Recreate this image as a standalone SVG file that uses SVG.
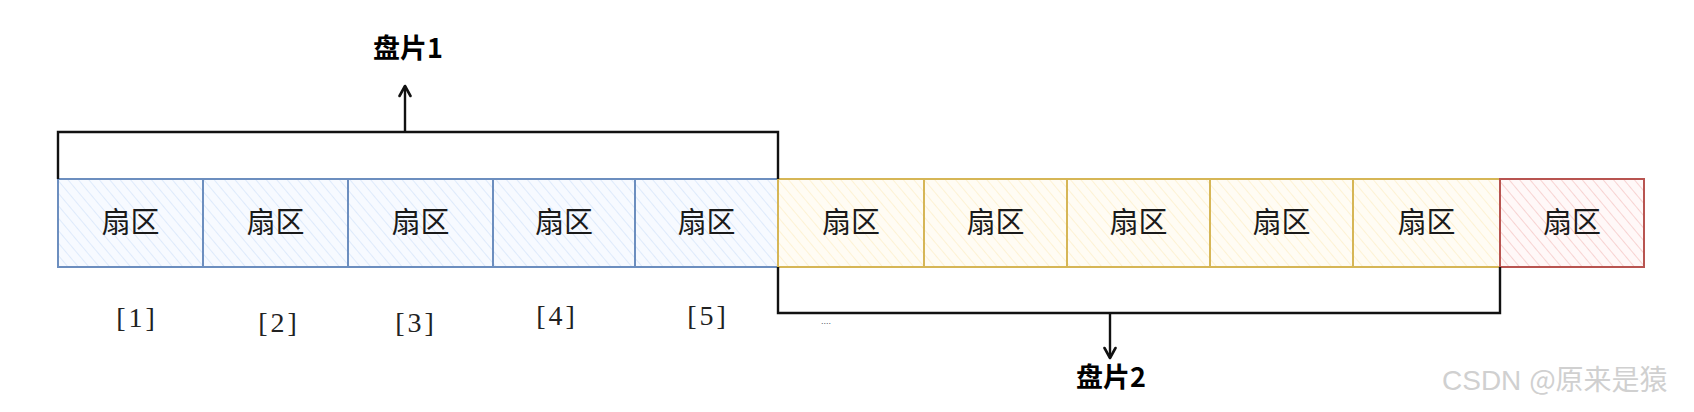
<svg xmlns="http://www.w3.org/2000/svg" width="1694" height="412" viewBox="0 0 1694 412">
<defs>
<pattern id="hb" width="8" height="8" patternUnits="userSpaceOnUse" patternTransform="rotate(-40)"><rect width="8" height="8" fill="#f7faff"/><line x1="0" y1="0" x2="0" y2="8" stroke="#d4e3fa" stroke-width="1.4"/></pattern>
<pattern id="hy" width="8" height="8" patternUnits="userSpaceOnUse" patternTransform="rotate(-40)"><rect width="8" height="8" fill="#fffcf4"/><line x1="0" y1="0" x2="0" y2="8" stroke="#fdeec6" stroke-width="1.4"/></pattern>
<pattern id="hr" width="8" height="8" patternUnits="userSpaceOnUse" patternTransform="rotate(-40)"><rect width="8" height="8" fill="#fff8f8"/><line x1="0" y1="0" x2="0" y2="8" stroke="#f4c4c2" stroke-width="1.4"/></pattern>
<marker id="arr" viewBox="0 0 14 14" refX="12" refY="7" markerWidth="14" markerHeight="14" orient="auto" markerUnits="userSpaceOnUse">
<path d="M2 1.5 L12 7 L2 12.5" fill="none" stroke="#111" stroke-width="2.6" stroke-linejoin="round" stroke-linecap="round"/>
</marker>
</defs>
<style>
.b{fill:url(#hb);stroke:#6c8ebf;stroke-width:2}
.y{fill:url(#hy);stroke:#d6b656;stroke-width:2}
.r{fill:url(#hr);stroke:#b85450;stroke-width:2}
.t{font-family:"Noto Sans CJK SC","Liberation Sans",sans-serif;font-size:29px;fill:#1a1a1a;text-anchor:middle}
.lb{font-family:"Noto Sans CJK SC","Liberation Sans",sans-serif;font-size:27px;font-weight:bold;fill:#000;text-anchor:middle}
.idx{font-family:"Liberation Serif","Noto Sans CJK SC",serif;font-size:28px;letter-spacing:3px;fill:#222;text-anchor:middle}
.con{fill:none;stroke:#111;stroke-width:2.4}
.wm{font-family:"Liberation Sans","Noto Sans CJK SC",sans-serif;font-size:28px;fill:#d0d0d0}
</style>
<g id="s1"><rect class="b" x="58" y="179" width="145" height="88"/><text class="t" x="130.5" y="233">扇区</text></g>
<g id="s2"><rect class="b" x="203" y="179" width="145" height="88"/><text class="t" x="275.5" y="233">扇区</text></g>
<g id="s3"><rect class="b" x="348" y="179" width="145" height="88"/><text class="t" x="420.5" y="233">扇区</text></g>
<g id="s4"><rect class="b" x="493" y="179" width="142" height="88"/><text class="t" x="564" y="233">扇区</text></g>
<g id="s5"><rect class="b" x="635" y="179" width="143" height="88"/><text class="t" x="706.5" y="233">扇区</text></g>
<g id="s6"><rect class="y" x="778" y="179" width="146" height="88"/><text class="t" x="851" y="233">扇区</text></g>
<g id="s7"><rect class="y" x="924" y="179" width="143" height="88"/><text class="t" x="995.5" y="233">扇区</text></g>
<g id="s8"><rect class="y" x="1067" y="179" width="143" height="88"/><text class="t" x="1138.5" y="233">扇区</text></g>
<g id="s9"><rect class="y" x="1210" y="179" width="143" height="88"/><text class="t" x="1281.5" y="233">扇区</text></g>
<g id="s10"><rect class="y" x="1353" y="179" width="147" height="88"/><text class="t" x="1426.5" y="233">扇区</text></g>
<g id="s11"><rect class="r" x="1500" y="179" width="144" height="88"/><text class="t" x="1572" y="233">扇区</text></g>
<g id="connectors">
<path class="con" d="M58 179 V132 H778 V179"/>
<path class="con" d="M405 132 V86" marker-end="url(#arr)"/>
<path class="con" d="M778 267 V313 H1500 V267"/>
<path class="con" d="M1110 313 V358" marker-end="url(#arr)"/>
</g>
<g id="label1"><text class="lb" x="408" y="58">盘片1</text></g>
<g id="label2"><text class="lb" x="1111" y="387">盘片2</text></g>
<g id="indices">
<text class="idx" x="137" y="327">[1]</text>
<text class="idx" x="279" y="332">[2]</text>
<text class="idx" x="416" y="332">[3]</text>
<text class="idx" x="557" y="325">[4]</text>
<text class="idx" x="708" y="325">[5]</text>
<text x="821" y="324" font-family="Liberation Sans,sans-serif" font-size="9" fill="#556">....</text>
</g>
<text class="wm" x="1442" y="390">CSDN <tspan font-family="Noto Sans CJK SC,sans-serif">@原来是猿</tspan></text>
</svg>
